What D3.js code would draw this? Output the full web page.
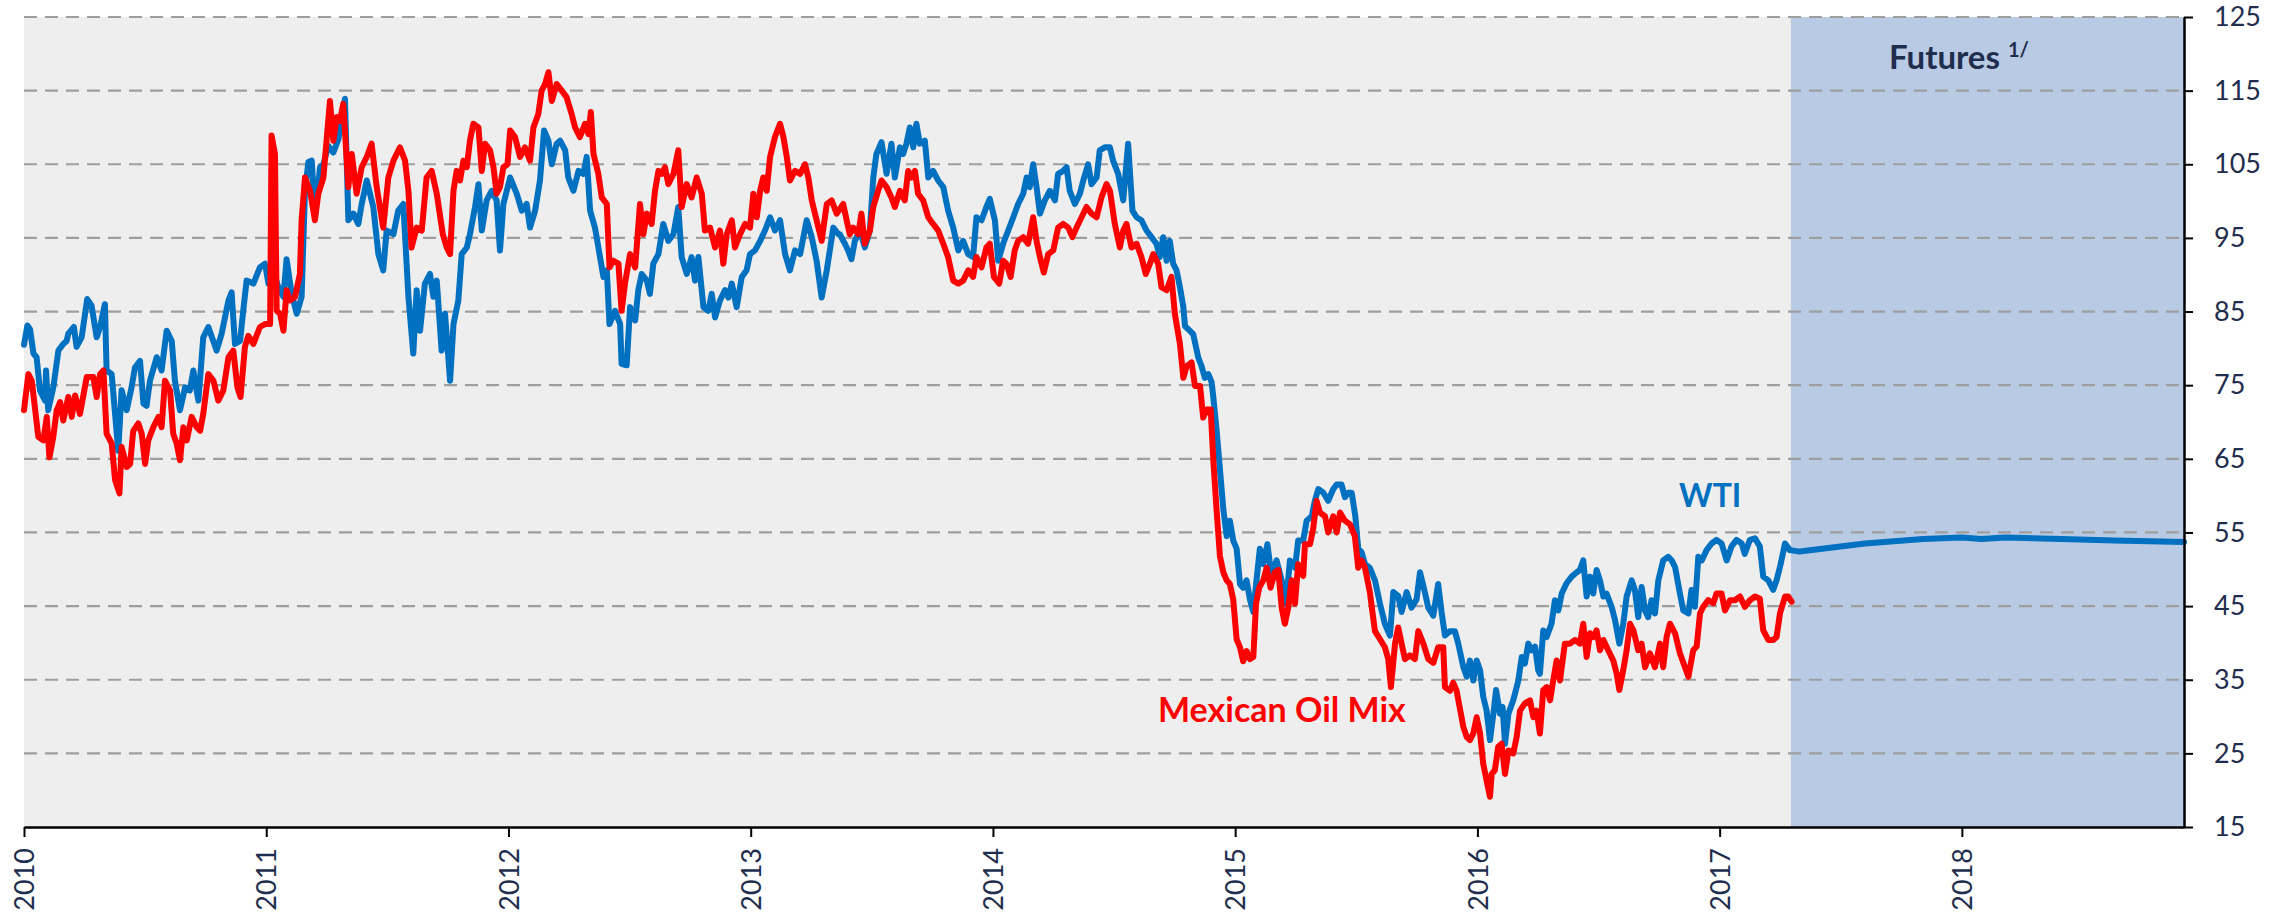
<!DOCTYPE html>
<html><head><meta charset="utf-8">
<script src="https://cdn.jsdelivr.net/npm/d3@7"></script>
<style>body{margin:0;background:#fff}svg{display:block}</style>
</head><body><svg id="chart" width="2293" height="916"></svg>
<script>
// ---------- data ----------
const xTicks = [2010, 2011, 2012, 2013, 2014, 2015, 2016, 2017, 2018];
const yTicks = [15, 25, 35, 45, 55, 65, 75, 85, 95, 105, 115, 125];
const xDomain = [2010, 2018.917];
const futuresStart = 2017.294;

const wtiYears = [
2010.000,2010.014,2010.025,2010.039,2010.052,2010.066,2010.087,2010.091,2010.100,2010.121,2010.142,2010.162,2010.176,2010.183,2010.206,2010.217,2010.238,2010.261,2010.279,2010.300,2010.314,2010.334,2010.341,2010.362,2010.389,2010.403,2010.424,2010.444,2010.458,2010.479,2010.493,2010.506,2010.520,2010.548,2010.568,2010.589,2010.610,2010.623,2010.644,2010.665,2010.685,2010.699,2010.720,2010.740,2010.761,2010.795,2010.816,2010.844,2010.857,2010.871,2010.892,2010.905,2010.919,2010.947,2010.974,2010.995,2011.009,2011.029,2011.050,2011.071,2011.084,2011.105,2011.126,2011.146,2011.160,2011.174,2011.188,2011.201,2011.222,2011.236,2011.256,2011.277,2011.298,2011.325,2011.339,2011.360,2011.380,2011.394,2011.415,2011.442,2011.463,2011.483,2011.497,2011.525,2011.545,2011.566,2011.587,2011.607,2011.621,2011.635,2011.655,2011.676,2011.690,2011.704,
2011.724,2011.738,2011.759,2011.773,2011.793,2011.807,2011.828,2011.841,2011.862,2011.876,2011.890,2011.910,2011.931,2011.951,2011.965,2011.979,2012.007,2012.034,2012.055,2012.075,2012.089,2012.110,2012.130,2012.147,2012.165,2012.179,2012.199,2012.213,2012.234,2012.247,2012.268,2012.289,2012.309,2012.323,2012.337,2012.357,2012.378,2012.392,2012.406,2012.417,2012.440,2012.461,2012.467,2012.488,2012.502,2012.523,2012.536,2012.550,2012.571,2012.584,2012.598,2012.619,2012.639,2012.660,2012.681,2012.701,2012.715,2012.736,2012.756,2012.770,2012.784,2012.805,2012.825,2012.839,2012.853,2012.873,2012.894,2012.908,2012.922,2012.942,2012.963,2012.983,2012.997,2013.018,2013.039,2013.059,2013.080,2013.100,2013.121,2013.142,2013.162,2013.183,2013.204,2013.231,2013.252,2013.272,2013.293,2013.314,2013.341,2013.362,
2013.368,2013.389,2013.402,2013.416,2013.430,2013.451,2013.471,2013.492,2013.506,2013.519,2013.540,2013.561,2013.581,2013.595,2013.616,2013.629,2013.643,2013.657,2013.671,2013.684,2013.698,2013.719,2013.733,2013.753,2013.774,2013.795,2013.815,2013.836,2013.857,2013.877,2013.898,2013.918,2013.932,2013.953,2013.973,2013.987,2014.008,2014.022,2014.042,2014.063,2014.084,2014.104,2014.125,2014.139,2014.152,2014.166,2014.180,2014.194,2014.214,2014.235,2014.256,2014.269,2014.290,2014.304,2014.317,2014.338,2014.359,2014.373,2014.393,2014.407,2014.428,2014.441,2014.462,2014.483,2014.496,2014.517,2014.538,2014.558,2014.576,2014.593,2014.613,2014.634,2014.655,2014.675,2014.689,2014.703,2014.717,2014.730,2014.744,2014.758,2014.772,
2014.786,2014.793,2014.813,2014.827,2014.848,2014.861,2014.875,2014.889,2014.903,2014.910,2014.923,2014.937,2014.951,2014.965,2014.978,2014.992,2015.006,2015.020,2015.033,2015.047,2015.061,2015.075,2015.088,2015.102,2015.116,2015.133,2015.150,2015.171,2015.192,2015.210,2015.226,2015.247,2015.260,2015.281,2015.295,2015.316,2015.329,2015.343,2015.364,2015.384,2015.405,2015.419,2015.439,2015.453,2015.467,2015.481,2015.496,2015.508,2015.522,2015.536,2015.556,2015.577,2015.598,2015.618,2015.639,2015.653,2015.673,2015.687,2015.708,2015.728,2015.749,2015.763,2015.783,2015.797,2015.818,2015.838,2015.852,2015.866,2015.887,2015.907,2015.921,
2015.942,2015.956,2015.969,2015.983,2015.997,2016.011,2016.024,2016.038,2016.052,2016.066,2016.077,2016.093,2016.104,2016.114,2016.128,2016.148,2016.169,2016.183,2016.196,2016.210,2016.224,2016.238,2016.251,2016.258,2016.272,2016.286,2016.306,2016.320,2016.334,2016.348,2016.368,2016.389,2016.403,2016.423,2016.437,2016.451,2016.465,2016.478,2016.492,2016.506,2016.520,2016.533,2016.554,2016.568,2016.586,2016.602,2016.616,2016.637,2016.650,2016.664,2016.678,2016.692,2016.705,2016.719,2016.733,2016.747,2016.767,2016.788,2016.802,2016.816,2016.836,2016.850,2016.871,2016.884,2016.898,2016.912,2016.926,2016.946,2016.967,2016.987,2017.008,2017.029,2017.049,2017.070,2017.091,2017.104,2017.125,2017.146,2017.166,2017.180,2017.201,2017.221,2017.235,2017.249,2017.270,2017.290];
const wtiValues = [
80.5,83.1,82.6,79.3,78.8,74.3,72.9,77.0,71.6,74.7,79.7,80.6,81.0,82.0,82.9,80.2,81.5,86.7,85.8,81.5,82.9,86.0,77.0,76.5,66.1,74.3,71.6,74.7,77.4,78.3,72.5,72.2,75.6,78.8,77.0,82.4,81.0,75.6,71.6,74.7,74.3,77.0,72.9,81.5,82.9,79.7,82.0,86.5,87.6,80.6,81.0,85.1,89.2,88.8,91.0,91.5,88.8,90.6,88.3,87.0,92.1,87.4,84.7,87.0,101.4,105.3,105.5,97.8,104.6,105.0,107.5,106.6,108.4,113.9,97.4,98.3,96.9,99.6,102.8,99.2,92.8,90.6,96.0,95.5,98.7,99.6,87.0,79.3,87.9,82.4,88.8,90.1,87.0,89.2,
79.7,84.7,75.6,83.3,86.5,92.8,93.7,95.5,99.2,102.3,96.0,100.1,101.4,100.1,93.3,99.6,103.2,101.0,98.7,99.6,96.4,98.7,102.8,109.6,108.2,105.0,107.8,108.2,106.9,103.2,101.4,104.1,103.7,106.0,98.7,96.4,92.4,89.7,90.6,83.3,85.1,83.3,77.9,77.7,85.6,83.8,87.9,90.1,89.2,87.4,91.5,92.8,96.9,94.6,95.5,99.2,92.4,90.1,92.4,89.2,92.4,85.6,85.1,87.4,84.2,86.5,87.9,86.9,88.8,85.6,89.7,90.6,92.8,93.3,94.6,96.0,97.8,96.0,97.4,92.8,90.6,93.3,92.8,97.4,95.1,91.9,86.9,90.6,96.4,95.5,
95.5,94.2,93.3,92.1,94.6,96.0,93.7,96.0,103.2,106.4,108.0,103.7,107.8,103.2,107.3,106.4,107.8,110.0,107.3,110.5,107.8,108.2,103.2,104.1,102.8,101.9,98.7,96.4,93.3,94.6,92.8,92.4,97.8,97.4,99.2,100.3,97.4,91.9,94.2,96.0,97.8,99.6,101.0,103.2,101.9,105.0,101.9,98.3,100.1,101.4,100.1,103.7,104.1,104.6,101.4,99.6,101.0,102.8,105.0,102.3,103.2,106.9,107.3,107.3,105.5,103.7,100.1,107.8,98.7,97.8,97.4,96.0,95.1,94.2,92.4,95.1,91.9,94.6,91.5,90.6,88.3,
85.6,83.0,82.4,81.9,78.7,77.6,76.0,76.5,75.4,73.3,69.0,63.6,58.2,54.5,56.6,53.9,52.8,48.0,47.5,48.5,45.9,44.2,48.5,52.8,50.7,53.4,49.1,51.2,48.5,45.3,51.2,50.2,53.9,53.9,56.6,57.2,59.3,60.9,60.4,59.3,60.9,61.5,61.5,59.8,60.4,60.4,57.2,52.8,52.3,50.7,50.2,48.5,45.3,42.6,41.0,46.9,46.4,44.2,46.9,44.8,45.9,49.6,46.9,44.8,43.7,48.0,44.2,41.0,41.6,41.6,39.9,
36.7,35.4,37.6,34.9,37.6,36.3,32.7,30.8,26.8,30.4,33.6,30.4,31.3,26.3,30.4,32.2,34.9,38.1,37.2,39.9,39.0,39.5,36.3,35.8,41.7,40.8,42.6,45.8,44.4,46.7,48.1,49.0,49.4,49.9,51.2,46.3,49.0,46.7,49.9,48.5,46.3,46.7,44.9,43.1,39.9,42.6,46.3,48.5,47.2,43.5,47.6,44.4,43.5,45.8,44.0,48.5,51.2,51.7,51.2,50.3,46.7,44.4,44.0,47.2,44.9,51.7,51.2,52.6,53.5,54.0,53.5,51.2,53.1,54.0,53.5,52.1,54.0,54.2,53.1,49.0,48.5,47.2,48.5,50.3,53.5,52.6];

const mixYears = [
2010.000,2010.018,2010.032,2010.045,2010.059,2010.080,2010.094,2010.105,2010.121,2010.135,2010.149,2010.162,2010.183,2010.197,2010.211,2010.231,2010.259,2010.286,2010.300,2010.314,2010.328,2010.341,2010.362,2010.376,2010.394,2010.403,2010.424,2010.438,2010.451,2010.472,2010.486,2010.500,2010.513,2010.534,2010.555,2010.568,2010.582,2010.603,2010.616,2010.630,2010.644,2010.658,2010.672,2010.692,2010.713,2010.727,2010.740,2010.761,2010.782,2010.802,2010.823,2010.844,2010.864,2010.881,2010.894,2010.912,2010.926,2010.947,2010.974,2010.995,2011.016,2011.022,2011.036,2011.043,2011.057,2011.071,2011.084,2011.098,2011.119,2011.139,2011.146,2011.160,2011.181,2011.201,2011.215,2011.236,2011.249,2011.263,2011.277,2011.291,2011.304,2011.318,2011.339,2011.353,2011.373,2011.394,2011.415,2011.435,2011.456,2011.483,2011.504,2011.525,2011.552,2011.573,2011.587,2011.600,2011.621,2011.642,2011.662,2011.683,2011.704,
2011.729,2011.745,2011.759,2011.773,2011.786,2011.800,2011.814,2011.828,2011.841,2011.855,2011.876,2011.890,2011.903,2011.924,2011.938,2011.951,2011.965,2011.979,2011.996,2012.007,2012.027,2012.048,2012.068,2012.089,2012.103,2012.123,2012.137,2012.151,2012.165,2012.179,2012.199,2012.220,2012.240,2012.261,2012.275,2012.295,2012.316,2012.330,2012.340,2012.351,2012.371,2012.385,2012.406,2012.417,2012.433,2012.454,2012.467,2012.481,2012.502,2012.523,2012.543,2012.557,2012.571,2012.591,2012.605,2012.619,2012.633,2012.646,2012.660,2012.681,2012.701,2012.715,2012.736,2012.756,2012.777,2012.798,2012.811,2012.832,2012.853,2012.873,2012.887,2012.901,2012.922,2012.935,2012.956,2012.977,2012.997,2013.011,2013.025,2013.039,2013.052,2013.066,2013.080,2013.100,2013.121,2013.135,2013.149,2013.162,2013.183,2013.204,2013.224,2013.238,2013.252,2013.272,2013.293,2013.314,2013.334,2013.355,
2013.382,2013.396,2013.409,2013.423,2013.444,2013.457,2013.471,2013.492,2013.506,2013.526,2013.540,2013.561,2013.581,2013.595,2013.616,2013.636,2013.650,2013.664,2013.678,2013.691,2013.712,2013.733,2013.753,2013.774,2013.795,2013.815,2013.836,2013.857,2013.877,2013.898,2013.918,2013.932,2013.953,2013.973,2013.987,2014.004,2014.026,2014.042,2014.056,2014.073,2014.090,2014.104,2014.125,2014.145,2014.166,2014.180,2014.194,2014.210,2014.228,2014.249,2014.269,2014.290,2014.311,2014.328,2014.345,2014.366,2014.386,2014.407,2014.428,2014.448,2014.469,2014.483,2014.503,2014.524,2014.538,2014.551,2014.572,2014.593,2014.613,2014.631,2014.648,2014.662,2014.682,2014.696,2014.717,2014.737,2014.751,2014.772,
2014.786,2014.800,2014.820,2014.834,2014.855,2014.868,2014.882,2014.899,2014.910,2014.923,2014.937,2014.951,2014.965,2014.978,2014.992,2015.006,2015.020,2015.033,2015.047,2015.061,2015.075,2015.086,2015.099,2015.116,2015.130,2015.146,2015.164,2015.178,2015.192,2015.205,2015.219,2015.233,2015.247,2015.260,2015.281,2015.288,2015.309,2015.322,2015.336,2015.350,2015.371,2015.384,2015.405,2015.419,2015.433,2015.453,2015.474,2015.494,2015.508,2015.522,2015.536,2015.556,2015.577,2015.598,2015.618,2015.632,2015.643,2015.660,2015.673,2015.687,2015.701,2015.721,2015.742,2015.756,2015.777,2015.797,2015.818,2015.838,2015.859,2015.866,2015.887,2015.900,2015.914,
2015.942,2015.956,2015.969,2015.983,2015.997,2016.011,2016.024,2016.038,2016.052,2016.059,2016.072,2016.086,2016.100,2016.114,2016.128,2016.148,2016.162,2016.176,2016.196,2016.217,2016.231,2016.244,2016.258,2016.272,2016.286,2016.300,2016.313,2016.327,2016.341,2016.361,2016.382,2016.403,2016.423,2016.437,2016.451,2016.465,2016.478,2016.492,2016.506,2016.520,2016.540,2016.561,2016.575,2016.586,2016.602,2016.616,2016.630,2016.644,2016.664,2016.678,2016.692,2016.712,2016.733,2016.754,2016.767,2016.781,2016.795,2016.816,2016.836,2016.857,2016.871,2016.891,2016.905,2016.919,2016.932,2016.953,2016.974,2016.987,2017.008,2017.022,2017.043,2017.063,2017.084,2017.104,2017.125,2017.146,2017.166,2017.180,2017.201,2017.221,2017.235,2017.249,2017.270,2017.283,2017.297];
const mixValues = [
71.6,76.5,75.6,72.0,68.0,67.5,70.7,65.2,68.0,71.6,72.7,70.2,73.4,70.7,73.6,71.1,76.1,76.1,73.4,76.5,77.0,68.4,67.1,62.1,60.3,66.6,63.9,64.3,68.8,69.8,68.4,64.3,67.5,69.3,70.7,69.3,75.6,74.3,68.4,67.1,64.8,69.3,67.5,70.7,69.3,68.8,71.1,76.5,75.6,72.9,74.3,78.8,79.7,74.7,73.4,80.2,81.7,80.6,82.9,83.3,83.3,108.9,106.4,85.1,84.7,82.4,87.9,86.5,87.0,90.1,97.4,103.2,101.4,97.4,101.0,103.2,108.2,113.6,108.2,111.4,110.9,113.2,101.9,106.4,101.0,104.6,106.0,107.8,101.9,96.4,103.2,105.5,107.3,105.5,101.4,93.7,96.4,96.0,103.2,104.1,101.0,
95.5,93.7,92.8,101.4,104.1,102.8,105.5,104.6,108.2,110.5,110.0,104.1,107.8,106.9,104.6,101.0,101.9,104.6,105.0,109.6,108.7,106.0,107.3,105.5,110.0,111.8,115.0,115.9,117.5,113.6,115.9,115.0,114.1,111.8,110.0,108.7,110.5,109.1,112.1,106.4,103.7,100.5,99.6,91.0,91.9,91.5,85.1,88.8,92.8,91.0,99.6,95.5,98.3,96.9,101.4,104.1,103.7,104.6,102.3,103.7,106.9,99.2,102.3,100.5,103.2,101.0,96.0,96.4,93.7,96.0,91.5,95.5,97.4,93.7,95.5,96.9,96.4,101.0,97.8,101.4,103.2,101.4,106.0,108.7,110.5,108.7,106.0,102.8,104.1,103.7,105.0,103.2,100.1,97.4,94.6,99.6,100.1,98.3,
99.6,97.4,95.5,96.4,95.5,98.3,94.2,96.0,99.2,101.4,102.8,101.9,100.5,99.2,101.4,100.1,104.1,103.2,104.1,101.0,100.1,97.8,96.9,96.0,94.2,92.4,89.2,88.8,89.2,90.6,89.7,92.4,91.0,93.7,94.2,89.7,88.8,91.9,91.5,89.7,93.3,94.6,95.1,94.2,97.8,94.6,92.4,90.3,92.8,93.3,96.4,96.9,96.4,95.1,96.4,97.8,99.2,98.3,97.8,100.5,102.3,101.4,96.9,93.7,96.0,96.9,93.7,94.2,92.4,90.1,91.5,92.8,91.5,88.3,87.9,89.7,84.7,80.6,
76.0,77.6,78.1,74.9,74.9,70.6,71.7,71.7,64.7,58.2,51.8,49.6,48.5,48.0,45.9,40.5,39.4,37.5,38.9,37.8,38.1,45.3,47.5,48.5,50.2,47.5,49.6,49.9,44.8,42.6,44.8,48.5,45.3,50.7,49.1,53.4,53.4,55.5,59.3,57.7,57.2,55.0,57.2,55.0,57.7,56.6,56.1,54.5,50.2,51.2,50.2,46.9,41.6,40.5,39.4,37.8,34.0,39.9,42.1,39.9,37.8,38.3,37.8,41.6,39.9,37.8,37.3,39.4,39.4,34.0,33.5,34.6,33.5,
28.6,27.2,26.8,27.7,29.9,27.7,23.6,21.3,19.1,22.2,22.7,25.9,26.3,22.2,25.4,25.0,27.2,30.8,31.8,32.2,29.9,30.8,27.7,33.6,34.0,32.2,34.9,37.6,34.9,39.9,39.9,40.4,39.9,42.6,38.1,41.3,40.8,41.7,39.0,40.4,39.0,37.6,35.8,33.6,36.3,39.0,42.6,41.7,39.0,39.9,36.7,38.6,36.7,39.9,36.7,40.8,42.6,41.3,38.6,36.7,35.4,39.0,39.5,44.0,44.9,45.8,45.4,46.7,46.7,44.4,45.8,45.8,46.3,44.9,45.8,46.3,46.0,41.7,40.4,40.4,40.8,44.0,46.3,46.3,45.6];

const futuresYears  = [2017.290, 2017.330, 2017.600, 2017.840, 2018.000, 2018.080, 2018.180, 2018.410, 2018.630, 2018.917];
const futuresValues = [52.6, 52.4, 53.5, 54.1, 54.3, 54.1, 54.3, 54.1, 53.9, 53.7];

// ---------- chart ----------
const svg = d3.select("#chart");
const x = d3.scaleLinear().domain(xDomain).range([24, 2184]);
const y = d3.scaleLinear().domain([15, 125]).range([827, 17]);
const navy = "#1F2E4E";
const font = "Lato, 'Open Sans', sans-serif";

svg.append("rect").attr("x", x(xDomain[0])).attr("y", y(125))
  .attr("width", x(futuresStart) - x(xDomain[0])).attr("height", y(15) - y(125))
  .attr("fill", "#EEEEEE");
svg.append("rect").attr("x", x(futuresStart)).attr("y", y(125))
  .attr("width", x(xDomain[1]) - x(futuresStart)).attr("height", y(15) - y(125))
  .attr("fill", "#B9CAE4");

svg.append("g").selectAll("line").data(yTicks.filter(d => d > 15)).join("line")
  .attr("x1", x(xDomain[0])).attr("x2", x(xDomain[1]))
  .attr("y1", d => y(d)).attr("y2", d => y(d))
  .attr("stroke", "#9E9E9E").attr("stroke-width", 2.2).attr("stroke-dasharray", "13,8");

const line = d3.line().x(d => x(d[0])).y(d => y(d[1]));
const wti = d3.zip(wtiYears, wtiValues);
const mix = d3.zip(mixYears, mixValues);
const fut = d3.zip(futuresYears, futuresValues);

function drawLine(data, color) {
  svg.append("path").datum(data).attr("d", line).attr("fill", "none")
    .attr("stroke", color).attr("stroke-width", 6)
    .attr("stroke-linejoin", "round").attr("stroke-linecap", "round");
}
drawLine(wti, "#0070C0");
drawLine(fut, "#0070C0");
drawLine(mix, "#FF0000");

// axes
const xAxis = svg.append("g").attr("transform", `translate(0,${y(15)})`)
  .call(d3.axisBottom(x).tickValues(xTicks).tickFormat(d3.format("d")).tickSize(10).tickSizeOuter(0));
xAxis.select(".domain").attr("stroke", "#000").attr("stroke-width", 2.5);
xAxis.selectAll(".tick line").attr("stroke", "#000").attr("stroke-width", 2);
xAxis.selectAll(".tick text")
  .attr("transform", "rotate(-90)")
  .attr("x", -21).attr("y", 0).attr("dy", "0.36em")
  .attr("text-anchor", "end")
  .attr("font-family", font).attr("font-size", 27).attr("fill", navy);

const yAxis = svg.append("g").attr("transform", `translate(${x(xDomain[1])},0)`)
  .call(d3.axisRight(y).tickValues(yTicks).tickSize(9).tickPadding(21).tickSizeOuter(0));
yAxis.select(".domain").attr("stroke", "#000").attr("stroke-width", 2.5);
yAxis.selectAll(".tick line").attr("stroke", "#000").attr("stroke-width", 2);
yAxis.selectAll(".tick text").attr("font-family", font).attr("font-size", 27).attr("fill", navy);

// labels
svg.append("text").attr("x", 1679).attr("y", 507).text("WTI")
  .attr("font-family", font).attr("font-weight", "bold").attr("font-size", 32).attr("fill", "#0070C0");
svg.append("text").attr("x", 1158).attr("y", 722).text("Mexican Oil Mix")
  .attr("font-family", font).attr("font-weight", "bold").attr("font-size", 34).attr("fill", "#FF0000");
const fu = svg.append("text").attr("x", 1889).attr("y", 69)
  .attr("font-family", font).attr("font-weight", "bold").attr("font-size", 33).attr("fill", navy);
fu.append("tspan").text("Futures ");
fu.append("tspan").text("1/").attr("font-size", 20).attr("dy", -12);
</script></body></html>
